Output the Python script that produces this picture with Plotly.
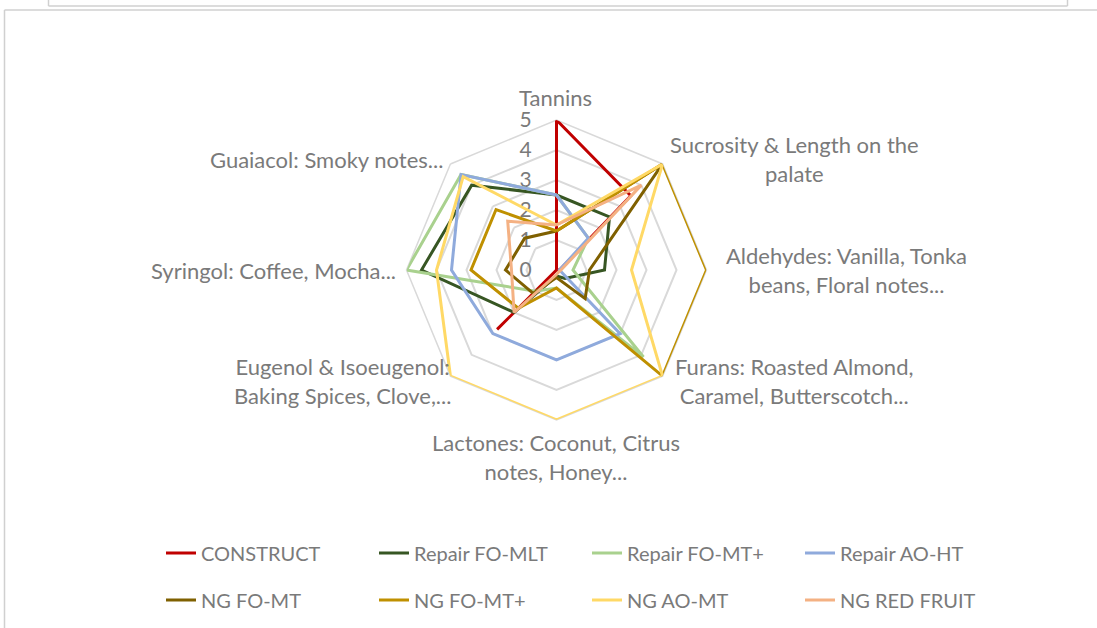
import plotly.graph_objects as go

W, H = 1097, 628

categories = [
    "Tannins",
    "Sucrosity & Length on the palate",
    "Aldehydes: Vanilla, Tonka beans, Floral notes...",
    "Furans: Roasted Almond, Caramel, Butterscotch...",
    "Lactones: Coconut, Citrus notes, Honey...",
    "Eugenol & Isoeugenol: Baking Spices, Clove,...",
    "Syringol: Coffee, Mocha...",
    "Guaiacol: Smoky notes...",
]
category_labels = [
    "Tannins",
    "Sucrosity & Length on the<br>palate",
    "Aldehydes: Vanilla, Tonka<br>beans, Floral notes...",
    "Furans: Roasted Almond,<br>Caramel, Butterscotch...",
    "Lactones: Coconut, Citrus<br>notes, Honey...",
    "Eugenol & Isoeugenol:<br>Baking Spices, Clove,...",
    "Syringol: Coffee, Mocha...",
    "Guaiacol: Smoky notes...",
]

series_names = ["CONSTRUCT", "Repair FO-MLT", "Repair FO-MT+", "Repair AO-HT",
                "NG FO-MT", "NG FO-MT+", "NG AO-MT", "NG RED FRUIT"]

construct      = [5.0, 3.5, 0.1, 0.0, 0.0, 2.8, 0.0, 0.0]
repair_fo_mlt  = [2.5, 2.5, 1.6, 0.4, 0.2, 2.0, 4.5, 4.0]
repair_fo_mtp  = [2.5, 1.5, 0.55, 4.1, 0.6, 1.0, 5.0, 4.5]
repair_ao_ht   = [2.5, 1.5, 0.1, 3.0, 3.0, 3.0, 3.5, 4.5]
ng_fo_mt       = [1.3, 5.0, 1.1, 1.35, 0.25, 1.1, 1.7, 1.5]
ng_fo_mtp      = [1.3, 5.0, 5.0, 5.0, 0.6, 1.8, 2.85, 2.85]
ng_ao_mt       = [1.5, 5.0, 2.5, 5.0, 5.0, 5.0, 4.0, 4.4]
ng_red_fruit   = [1.5, 4.0, 0.15, 0.1, 0.15, 2.0, 1.5, 2.3]

radial_ticks = [0, 1, 2, 3, 4, 5]

series_values = [construct, repair_fo_mlt, repair_fo_mtp, repair_ao_ht,
                 ng_fo_mt, ng_fo_mtp, ng_ao_mt, ng_red_fruit]
colors = ["#C00000", "#375623", "#A9D18E", "#8FAADC",
          "#7F6000", "#BF9000", "#FFD966", "#F4B183"]

TEXT = "#7a7a7a"
GRID = "#d9d9d9"
FONT = "Lato"

fig = go.Figure()
for i, (name, vals, col) in enumerate(zip(series_names, series_values, colors)):
    fig.add_trace(go.Scatterpolar(
        r=vals + vals[:1],
        theta=categories + categories[:1],
        mode="lines",
        name=name,
        line=dict(color=col, width=3),
        legend="legend" if i < 4 else "legend2",
        hoverinfo="skip",
    ))

# polar placement (pixels -> paper)
cx, cy, R = 556.5, 270, 150
legend_common = dict(
    orientation="h",
    x=161 / W, xanchor="left",
    yanchor="middle",
    entrywidth=168, entrywidthmode="pixels",
    font=dict(family=FONT, size=20, color=TEXT),
    bgcolor="rgba(0,0,0,0)",
    traceorder="normal",
)
fig.update_layout(
    width=W, height=H,
    margin=dict(l=0, r=0, t=0, b=0),
    paper_bgcolor="white",
    plot_bgcolor="white",
    font=dict(family=FONT, color=TEXT, size=20),
    polar=dict(
        domain=dict(x=[(cx - R) / W, (cx + R) / W],
                    y=[1 - (cy + R) / H, 1 - (cy - R) / H]),
        bgcolor="rgba(0,0,0,0)",
        gridshape="linear",
        angularaxis=dict(
            type="category",
            categoryarray=categories,
            direction="clockwise",
            rotation=90,
            showgrid=False,
            showline=True,
            linecolor=GRID,
            linewidth=1.5,
            showticklabels=False,
            ticks="",
            layer="below traces",
        ),
        radialaxis=dict(
            range=[0, 5],
            tickvals=radial_ticks,
            ticktext=[str(t) for t in radial_ticks],
            showgrid=True,
            gridcolor=GRID,
            gridwidth=1.5,
            showline=False,
            angle=90,
            tickangle=90,
            side="counterclockwise",
            ticks="outside",
            ticklen=17,
            tickcolor="rgba(0,0,0,0)",
            tickfont=dict(family=FONT, size=21, color=TEXT),
            layer="below traces",
        ),
    ),
    legend=dict(legend_common, y=1 - 553 / H),
    legend2=dict(legend_common, y=1 - 600 / H),
    showlegend=True,
)

# category labels
label_pos = [
    (556, 97, "center"),
    (794, 159, "center"),
    (846, 270, "center"),
    (794, 381, "center"),
    (556, 457, "center"),
    (342, 381, "center"),
    (398, 270, "right"),
    (445, 160, "right"),
]
for text, (px, py, anchor) in zip(category_labels, label_pos):
    fig.add_annotation(
        x=px / W, y=1 - py / H, xref="paper", yref="paper",
        text=text, showarrow=False, xanchor=anchor, yanchor="middle",
        align="center", font=dict(family=FONT, size=22, color=TEXT),
    )

# frame borders (chart area and the box above)
def seg(x0, y0, x1, y1):
    fig.add_shape(type="line", xref="paper", yref="paper",
                  x0=x0 / W, y0=1 - y0 / H, x1=x1 / W, y1=1 - y1 / H,
                  line=dict(color="#d0d0d0", width=1.5))

seg(4.5, 10, W, 10)
seg(4.5, 10, 4.5, H)
seg(48.5, 0, 48.5, 6)
seg(1067.5, 0, 1067.5, 6)
seg(48.5, 6, 1067.5, 6)

fig.write_html("out.html",
               config={"displayModeBar": False},
               post_script="document.body.style.margin='0';document.body.style.overflow='hidden';")
